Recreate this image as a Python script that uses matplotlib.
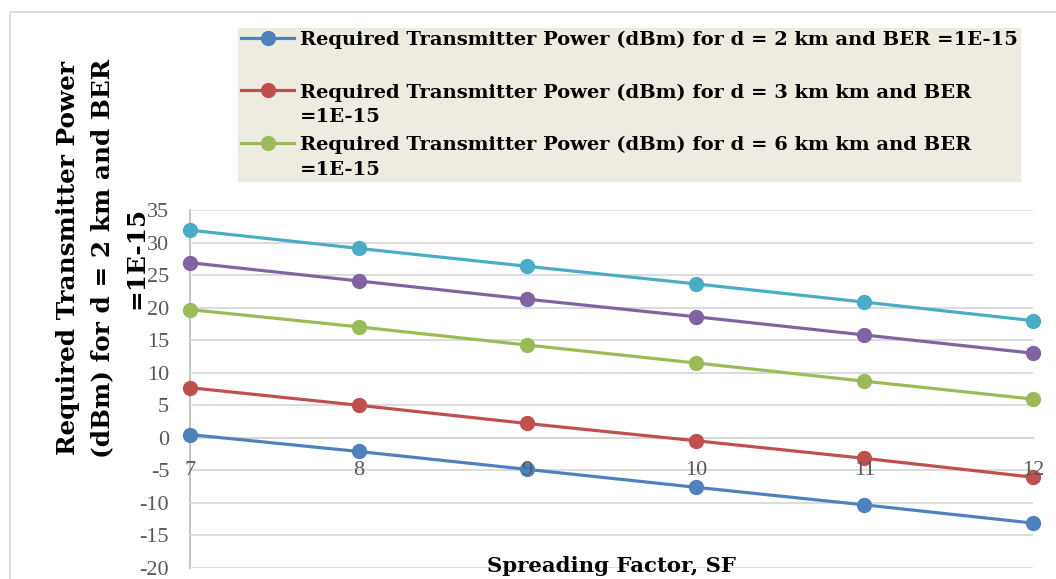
import matplotlib
matplotlib.use("Agg")
import matplotlib.pyplot as plt
from matplotlib.patches import Rectangle

plt.rcParams["axes.unicode_minus"] = False

# ---- data ----
spreading_factor = [7, 8, 9, 10, 11, 12]
power_d2 = [0.5, -2.1, -4.85, -7.6, -10.3, -13.1]
power_d3 = [7.7, 5.0, 2.2, -0.45, -3.15, -6.05]
power_d6 = [19.7, 17.05, 14.25, 11.5, 8.7, 5.95]
power_s4 = [26.9, 24.1, 21.3, 18.6, 15.8, 13.0]
power_s5 = [31.9, 29.1, 26.35, 23.65, 20.85, 18.0]

legend_labels = [
    "Required Transmitter Power (dBm) for d = 2 km and BER =1E-15\n ",
    "Required Transmitter Power (dBm) for d = 3 km km and BER\n=1E-15",
    "Required Transmitter Power (dBm) for d = 6 km km and BER\n=1E-15",
]
y_ticks = [-20, -15, -10, -5, 0, 5, 10, 15, 20, 25, 30, 35]
x_ticks = [7, 8, 9, 10, 11, 12]
x_title = "Spreading Factor, SF"
y_title = "Required Transmitter Power\n(dBm) for d = 2 km and BER\n=1E-15"

colors = ["#4F81BD", "#C0504D", "#9BBB59", "#8064A2", "#4BACC6"]

SERIF = ["Liberation Serif", "DejaVu Serif"]
BOLDSERIF = ["DejaVu Serif"]

fig = plt.figure(figsize=(10.56, 5.79), dpi=100)
W, H = 1056, 579

# outer chart border
fig.patches.append(Rectangle((10 / W, -0.2), 2.0, (H - 12) / H + 0.2,
                             transform=fig.transFigure, fill=False,
                             edgecolor="#D9D9D9", linewidth=1.2))

ax = fig.add_axes([190 / W, 11 / H, (1033 - 190) / W, (568 - 210) / H])

series = [power_d2, power_d3, power_d6, power_s4, power_s5]
handles = []
for vals, c in zip(series, colors):
    (ln,) = ax.plot(spreading_factor, vals, color=c, linewidth=2.3,
                    marker="o", markersize=10, zorder=2, clip_on=False)
    handles.append(ln)

ax.set_xlim(7, 12)
ax.set_ylim(-20, 35)
ax.set_yticks(y_ticks)
ax.set_xticks(x_ticks)
ax.set_xticklabels([str(v) for v in x_ticks])

ax.yaxis.grid(True, color="#D9D9D9", linewidth=1.3)
ax.xaxis.grid(False)
for s in ["top", "right"]:
    ax.spines[s].set_visible(False)
ax.spines["left"].set_color("#BFBFBF")
ax.spines["left"].set_linewidth(1.3)
ax.spines["bottom"].set_position(("data", 0))
ax.spines["bottom"].set_color("#BFBFBF")
ax.spines["bottom"].set_linewidth(1.3)
ax.spines["bottom"].set_zorder(1)
ax.spines["left"].set_zorder(1)

ax.tick_params(axis="y", length=0, pad=15, labelsize=16, labelcolor="#595959")
ax.tick_params(axis="x", length=0, pad=17, labelsize=16, labelcolor="#595959")
for lab in ax.get_xticklabels() + ax.get_yticklabels():
    lab.set_family(SERIF)
ax.xaxis.set_zorder(3)

ax.set_xlabel(x_title, fontsize=15.3, fontweight="bold", family=BOLDSERIF, color="black")
ax.xaxis.label.set_va("baseline")
ax.xaxis.set_label_coords(0.5, -3.7 / (568 - 210))

ax.set_ylabel(y_title, fontsize=17.8, fontweight="bold", family=BOLDSERIF, color="black",
              linespacing=1.55)
ax.yaxis.label.set_va("center")
ax.yaxis.label.set_ha("center")
ax.yaxis.set_label_coords((102 - 190) / (1033 - 190), (568 - 258) / (568 - 210))

leg = ax.legend(handles[:3], legend_labels, loc="upper left",
                bbox_to_anchor=(238 / W, (H - 28) / H), bbox_transform=fig.transFigure,
                frameon=True, fancybox=False, framealpha=1, facecolor="#EEECE1",
                edgecolor="none", borderpad=0.15, labelspacing=0.52,
                handlelength=2.75, handletextpad=0.3, borderaxespad=0,
                prop={"family": BOLDSERIF, "weight": "bold", "size": 14})
leg.set_zorder(5)
for t in leg.get_texts():
    t.set_linespacing(1.45)
for col in leg._legend_handle_box.get_children():
    for item in col.get_children():
        item.align = "top"

fig.savefig("out.png", dpi=100)
